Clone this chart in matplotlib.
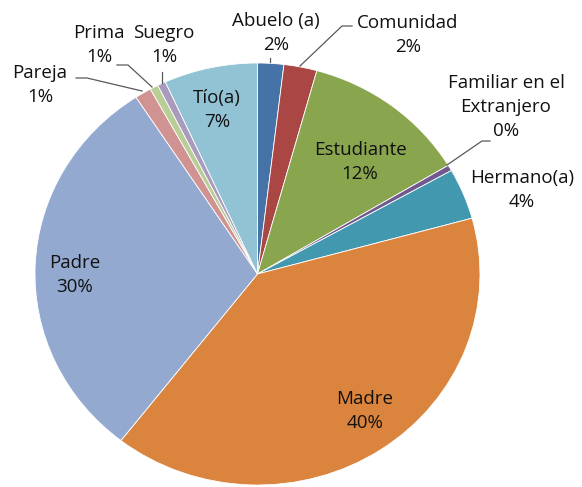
import matplotlib
matplotlib.use("Agg")
import matplotlib.pyplot as plt

categories = ["Abuelo (a)", "Comunidad", "Estudiante", "Familiar en el\nExtranjero",
              "Hermano(a)", "Madre", "Padre", "Pareja", "Prima", "Suegro", "Tío(a)"]
values = [1.9, 2.4, 12.1, 0.45, 3.9, 39.8, 30.3, 1.2, 0.6, 0.6, 6.8]
colors = ["#4572A7", "#AA4643", "#89A54E", "#71588F", "#4198AF", "#DB843D",
          "#93A9CF", "#D19392", "#B9CD96", "#A99BBD", "#91C3D5"]

W, H = 582, 487
fig = plt.figure(figsize=(W / 100, H / 100), dpi=100)
plt.rcParams['font.family'] = ['Open Sans', 'DejaVu Sans']

# pie bounding box in pixels
left, right, top, bottom = 35, 480, 63, 485
ax = fig.add_axes([left / W, (H - bottom) / H, (right - left) / W, (bottom - top) / H])
ax.pie(values, colors=colors, startangle=90, counterclock=False,
       wedgeprops=dict(edgecolor="white", linewidth=0.6))
ax.set_aspect('auto')
ax.set_xlim(-1, 1)
ax.set_ylim(-1, 1)
ax.axis('off')

total = sum(values)
pct = [f"{round(v / total * 100):.0f}%" for v in values]

# label centres in pixel coordinates (layout)
label_pos = {
    "Abuelo (a)": (276, 33),
    "Comunidad": (408, 35),
    "Estudiante": (360, 162),
    "Familiar en el\nExtranjero": (506, 107),
    "Hermano(a)": (522, 190),
    "Madre": (365, 411),
    "Padre": (75, 275),
    "Pareja": (40, 85),
    "Prima": (99, 45),
    "Suegro": (164, 45),
    "Tío(a)": (217, 110),
}

def px(x, y):
    return x / W, 1 - y / H

for cat, p in zip(categories, pct):
    x, y = label_pos[cat]
    fx, fy = px(x, y)
    fig.text(fx, fy, f"{cat}\n{p}", ha="center", va="center", fontsize=13.5,
             color="#111111", linespacing=1.4)

# leader lines (pixel coordinates)
leaders = [
    [(300, 66), (342, 26), (352, 26)],
    [(447, 165), (482, 141), (490, 141)],
    [(152, 87), (128, 65), (117, 65)],
    [(162, 83), (162, 72)],
    [(142, 91), (87, 78), (76, 78)],
    [(270, 62), (270, 58)],
]
for pts in leaders:
    xs = [px(a, b)[0] for a, b in pts]
    ys = [px(a, b)[1] for a, b in pts]
    fig.add_artist(plt.Line2D(xs, ys, color="#595959", linewidth=0.9,
                              transform=fig.transFigure))

fig.savefig("out.png", dpi=100)
